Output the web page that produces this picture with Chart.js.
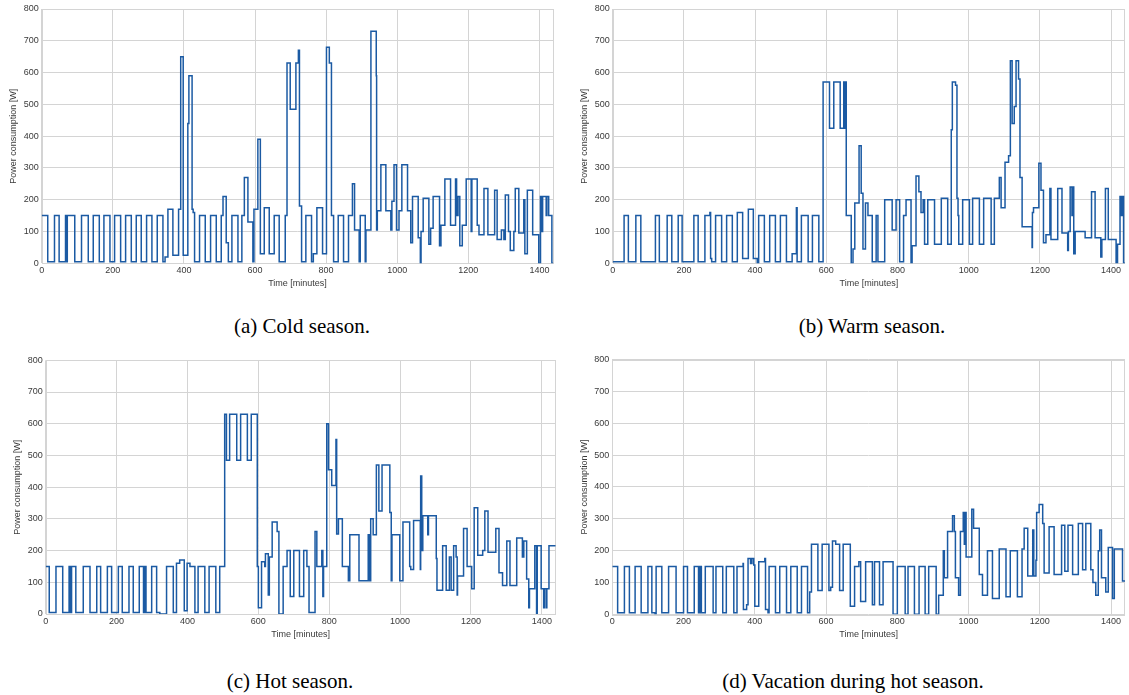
<!DOCTYPE html>
<html><head><meta charset="utf-8">
<script src="https://cdn.jsdelivr.net/npm/chart.js@4"></script>
<style>
body{margin:0;background:#fff;width:1129px;height:695px;overflow:hidden;position:relative;}
canvas{position:absolute;}
.cap{position:absolute;font-family:"Liberation Serif","DejaVu Serif",serif;font-size:21px;color:#000;white-space:nowrap;transform:translateX(-50%);line-height:24px;}
</style></head><body>
<canvas id="ca"></canvas><canvas id="cb"></canvas><canvas id="cc"></canvas><canvas id="cd"></canvas>
<div class="cap" style="left:302px;top:314px">(a) Cold season.</div>
<div class="cap" style="left:872px;top:314px">(b) Warm season.</div>
<div class="cap" style="left:290px;top:669px">(c) Hot season.</div>
<div class="cap" style="left:853px;top:669px">(d) Vacation during hot season.</div>
<script>
const xTickValues = [0,200,400,600,800,1000,1200,1400];
const yTickValues = [0,100,200,300,400,500,600,700,800];
const xLabel = 'Time [minutes]';
const yLabel = 'Power consumption [W]';

const timesCold = [0,17,36,49,67,70,72,93,112,131,145,162,175,192,205,222,236,252,266,280,295,310,325,341,347,355,369,385,391,398,411,414,423,426,430,444,460,475,491,505,510,519,525,535,552,563,570,580,594,597,608,615,626,640,654,668,685,690,699,715,722,725,731,743,759,764,774,790,801,809,815,821,834,849,863,874,880,893,896,910,912,926,941,942,944,954,968,982,985,991,998,1005,1013,1029,1038,1043,1059,1065,1067,1073,1089,1094,1101,1119,1123,1134,1150,1164,1167,1171,1176,1183,1194,1208,1210,1225,1230,1244,1255,1274,1281,1293,1300,1304,1313,1318,1328,1332,1342,1356,1359,1366,1381,1398,1403,1407,1409,1419,1421,1426,1435,1439];
const powerCold = [150,5,150,5,150,5,150,5,150,5,150,5,150,5,150,5,150,5,150,5,150,5,150,5,20,170,25,170,650,25,440,590,170,160,5,150,5,150,5,150,210,65,5,150,5,150,270,130,5,170,390,30,175,30,150,5,150,630,485,630,670,180,5,150,5,30,175,30,680,630,150,5,150,5,150,250,105,5,150,5,105,730,590,105,165,310,165,105,195,310,105,165,310,165,65,210,80,0,100,205,60,110,210,55,120,265,120,265,150,210,55,120,265,100,265,120,90,235,90,230,75,105,75,215,100,40,100,235,95,200,30,230,90,0,210,100,210,150,210,150,0,0];

const timesWarm = [0,32,44,65,79,120,131,153,166,184,195,228,240,259,273,275,278,289,306,320,336,350,365,381,395,406,410,426,441,457,471,488,504,516,518,530,549,561,579,591,609,621,639,649,651,652,656,670,675,680,692,698,703,710,717,729,740,745,764,785,796,806,817,824,838,841,852,860,866,872,876,885,904,923,941,951,954,963,967,970,972,983,1002,1011,1030,1042,1063,1072,1086,1091,1102,1112,1117,1122,1128,1133,1140,1144,1150,1178,1179,1182,1197,1203,1210,1217,1228,1231,1250,1262,1278,1280,1285,1290,1292,1295,1299,1327,1345,1355,1371,1374,1384,1392,1414,1418,1425,1429,1431,1435,1439];
const powerWarm = [5,150,5,150,5,150,5,150,5,150,5,150,5,150,160,15,5,150,5,150,5,160,15,170,15,0,150,5,150,5,150,5,30,175,5,150,5,150,5,570,425,570,425,570,425,570,150,0,45,190,370,220,45,190,150,5,150,5,200,105,200,5,150,200,0,55,275,225,160,200,60,200,60,205,60,420,570,560,205,150,60,200,60,205,60,205,60,205,270,175,318,338,637,440,493,637,580,270,115,50,160,175,315,230,65,90,235,75,235,95,40,100,240,150,240,30,100,80,225,80,20,75,235,75,0,60,210,150,210,0,0];

const timesHot = [0,10,29,48,66,68,70,72,73,85,106,125,144,155,174,186,205,216,235,247,264,276,278,280,282,283,299,313,322,341,360,369,378,391,399,407,421,430,449,461,480,491,505,510,519,539,550,569,580,597,600,609,618,620,628,631,639,653,658,670,681,690,700,716,728,737,743,760,765,779,782,784,793,798,807,819,821,826,837,854,858,884,910,914,917,924,933,940,949,971,975,977,999,1008,1027,1030,1038,1057,1058,1061,1064,1078,1080,1102,1104,1120,1130,1139,1144,1151,1158,1161,1162,1179,1189,1202,1209,1219,1233,1239,1248,1270,1279,1289,1301,1310,1329,1345,1349,1357,1363,1365,1380,1385,1387,1398,1405,1407,1412,1414,1420,1439];
const powerHot = [150,5,150,5,150,5,150,5,150,5,150,5,150,5,150,5,150,5,150,5,150,5,150,5,150,5,150,5,0,150,5,160,170,10,160,150,5,150,5,150,5,150,630,485,630,485,630,485,630,150,20,165,150,190,60,180,290,260,0,150,200,55,200,55,200,150,5,260,150,200,55,150,600,455,405,550,252,300,150,105,250,105,250,105,300,250,470,325,470,320,105,250,105,290,150,140,295,140,435,200,310,250,310,175,75,215,75,180,75,215,180,60,120,270,150,80,335,185,200,325,195,270,130,90,230,90,240,180,230,110,20,80,215,0,215,80,20,80,20,80,215,215];

const timesVacation = [0,15,34,48,64,81,100,111,120,123,139,158,179,200,211,230,242,244,246,248,250,261,283,291,310,320,341,350,367,368,377,381,388,392,397,400,411,428,430,437,440,458,470,489,501,519,531,548,554,559,577,589,608,613,618,627,638,648,668,680,692,697,711,730,736,750,760,788,800,822,830,848,861,878,888,909,916,929,932,941,955,960,963,972,977,985,988,990,993,1009,1014,1030,1039,1053,1067,1086,1105,1117,1137,1150,1156,1166,1180,1183,1189,1191,1198,1208,1212,1226,1240,1261,1270,1279,1292,1308,1320,1329,1343,1349,1357,1364,1368,1373,1385,1392,1404,1409,1432,1439];
const powerVacation = [150,5,150,5,150,5,150,5,0,150,5,150,5,150,5,150,5,150,5,150,5,150,5,150,5,150,5,150,160,15,30,175,160,175,155,25,165,175,15,5,150,5,150,5,150,5,150,5,70,220,75,220,75,85,230,220,75,220,25,150,165,40,165,30,165,30,165,0,150,0,150,0,150,0,150,0,60,200,115,260,310,260,115,60,260,320,220,320,180,330,270,125,60,200,50,205,55,200,55,205,270,120,265,120,170,320,345,285,130,275,125,280,135,280,125,285,140,285,140,100,60,200,265,115,70,210,50,205,105,105];

const LINE = '#1b5aa3';
const GRID = '#d4d4d4';
const TXT = '#3a3a3a';
const FONT = {family:'"Liberation Sans", Arial, sans-serif', size:9};

const framePlugin = {
  id:'frame',
  beforeDatasetsDraw(chart){
    const a = chart.chartArea, c = chart.ctx;
    c.save(); c.strokeStyle = GRID; c.lineWidth = 1;
    c.strokeRect(Math.round(a.left)+0.5, Math.round(a.top)+0.5, Math.round(a.right-a.left)-1, Math.round(a.bottom-a.top));
    c.restore();
  }
};

function makeChart(id, box, area, times, values){
  const cv = document.getElementById(id);
  cv.width = box.w; cv.height = box.h;
  cv.style.left = box.x+'px'; cv.style.top = box.y+'px';
  cv.style.width = box.w+'px'; cv.style.height = box.h+'px';
  const pts = times.map((t,i)=>({x:t, y:values[i]}));
  const lh = FONT.size*1.2;
  new Chart(cv, {
    type:'line',
    data:{datasets:[{data:pts, stepped:true, borderColor:LINE, borderWidth:1.5, pointRadius:0, fill:false, tension:0}]},
    options:{
      responsive:false, animation:false, events:[], devicePixelRatio:1,
      layout:{padding:{left:0, top:area.top-box.y, right:box.x+box.w-area.right, bottom:0}},
      plugins:{legend:{display:false}, tooltip:{enabled:false}},
      scales:{
        x:{type:'linear', min:0, max:1439,
          afterBuildTicks:s=>{s.ticks = xTickValues.map(v=>({value:v}));},
          afterFit:s=>{s.height = box.y+box.h-area.bottom;},
          grid:{color:GRID, lineWidth:1, drawTicks:false},
          border:{display:false},
          ticks:{font:FONT, color:TXT, padding:2, maxRotation:0, autoSkip:false, callback:v=>String(v)},
          title:{display:true, text:xLabel, font:FONT, color:TXT, padding:{top:0, bottom:(box.y+box.h)-(area.bottom+20.2)-lh/2}}
        },
        y:{type:'linear', min:0, max:800,
          afterBuildTicks:s=>{s.ticks = yTickValues.map(v=>({value:v}));},
          afterFit:s=>{s.width = area.left-box.x;},
          grid:{color:GRID, lineWidth:1, drawTicks:false},
          border:{display:false},
          ticks:{font:FONT, color:TXT, padding:3, autoSkip:false, callback:v=>String(v)},
          title:{display:true, text:yLabel, font:FONT, color:TXT, padding:{top:(area.left-27.7-box.x)-lh/2, bottom:0}}
        }
      }
    },
    plugins:[framePlugin]
  });
}

makeChart('ca', {x:0,y:0,w:560,h:300}, {left:41.7,top:9,right:553.3,bottom:263.3}, timesCold, powerCold);
makeChart('cb', {x:565,y:0,w:564,h:300}, {left:612.7,top:9,right:1125,bottom:263.3}, timesWarm, powerWarm);
makeChart('cc', {x:0,y:350,w:565,h:300}, {left:45.7,top:360.3,right:555.7,bottom:614}, timesHot, powerHot);
makeChart('cd', {x:565,y:350,w:564,h:300}, {left:612.3,top:359.7,right:1125,bottom:614.3}, timesVacation, powerVacation);
</script>
</body></html>
